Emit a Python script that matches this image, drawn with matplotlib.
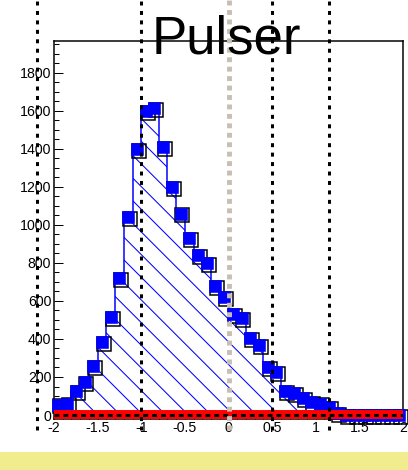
import numpy as np
import matplotlib
matplotlib.use("Agg")
import matplotlib.pyplot as plt
import matplotlib.transforms as mtransforms
from matplotlib.patches import Rectangle
from matplotlib.ticker import MultipleLocator

# dpi chosen so the default hatch spacing matches the reference
DPI = 136
plt.rcParams['font.family'] = ['Liberation Sans', 'DejaVu Sans']
plt.rcParams['hatch.linewidth'] = 0.55
plt.rcParams['lines.scale_dashes'] = False
plt.rcParams['axes.unicode_minus'] = False

# histogram: 40 bins of width 0.1 from -2 to 2
edges = np.linspace(-2, 2, 41)
counts = [55, 60, 125, 175, 258, 385, 515, 720, 1040, 1400,
          1600, 1615, 1410, 1200, 1060, 930, 840, 800, 680, 620,
          530, 510, 405, 370, 250, 225, 125, 115, 90, 70,
          60, 40, 10, 0, 0, 0, 0, 0, 0, 0]
centers = 0.5 * (edges[:-1] + edges[1:])

cut_lines = [-2.2, -1.0, 0.5, 1.15]
center_line = 0.0

fig = plt.figure(figsize=(408 / DPI, 470 / DPI), dpi=DPI)
ax = fig.add_axes([54 / 408, 1 - 419 / 470, 349 / 408, 378 / 470])

# hatched histogram
ax.stairs(counts, edges, fill=True, facecolor='none', edgecolor='blue',
          hatch='\\\\', linewidth=0.8, zorder=1)

# markers: black open squares slightly offset, blue filled squares on top
shift = mtransforms.offset_copy(ax.transData, fig=fig, x=1.0, y=-1.0, units='points')
ax.plot(centers, counts, 's', ms=7.0, mfc='none', mec='black', mew=0.8,
        transform=shift, zorder=2, clip_on=False)
ax.plot(centers, counts, 's', ms=6.5, mfc='blue', mec='blue', mew=0.3,
        zorder=3, clip_on=False)

# red band at zero with dashed black line
ax.axhline(0, color='red', lw=5.8, zorder=4)
ax.axhline(0, color='black', lw=1.6, dashes=(2.6, 2.1), zorder=5)

# vertical dotted lines reaching outside the frame
for xc in cut_lines:
    ax.axvline(xc, ymin=-0.03, ymax=1.12, color='black', lw=1.6,
               dashes=(2.1, 2.9), clip_on=False, zorder=6)
ax.axvline(center_line, ymin=-0.03, ymax=1.12, color='#c8bfb4', lw=2.6,
           dashes=(2.6, 2.4), clip_on=False, zorder=6)

ax.set_xlim(-2, 2)
ax.set_ylim(-21, 1968)
ax.xaxis.set_minor_locator(MultipleLocator(0.1))
ax.yaxis.set_minor_locator(MultipleLocator(50))
ax.set_xticks([-2, -1.5, -1, -0.5, 0, 0.5, 1, 1.5, 2])
ax.set_xticklabels(['-2', '-1.5', '-1', '-0.5', '0', '0.5', '1', '1.5', '2'])
ax.set_yticks(range(0, 2000, 200))
ax.tick_params(which='both', direction='in', labelsize=7.5, width=0.53,
               top=False, right=False)
ax.tick_params(which='major', length=4.8)
ax.tick_params(which='minor', length=2.6)
ax.tick_params(axis='y', pad=1.5)
ax.tick_params(axis='x', pad=1.0)
for sp in ax.spines.values():
    sp.set_linewidth(0.8)

fig.text(226.5 / 408, 1 - 53 / 470, 'Pulser', fontsize=28, ha='center',
         va='baseline', zorder=10)

# yellow strip at the bottom
fig.patches.append(Rectangle((0, 0), 1, 18 / 470, transform=fig.transFigure,
                             facecolor='#f1ec8e', edgecolor='none', zorder=0))

fig.savefig('out.png', dpi=DPI)
